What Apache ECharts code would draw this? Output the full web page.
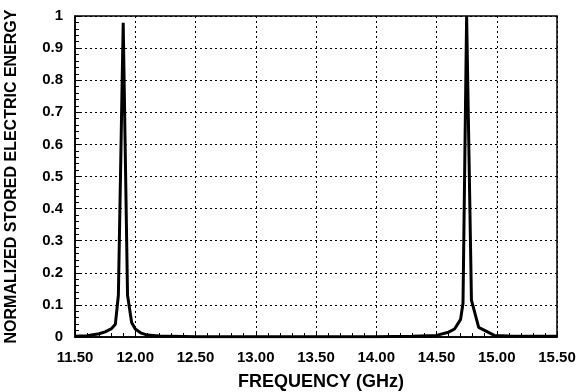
<!DOCTYPE html>
<html><head><meta charset="utf-8">
<script src="https://cdn.jsdelivr.net/npm/echarts@6/dist/echarts.min.js"></script>
<style>html,body{margin:0;padding:0;background:#fff}#c{width:578px;height:392px}</style>
</head><body><div id="c"></div>
<script>
const freq = [11.50, 11.60, 11.70, 11.75, 11.80, 11.835, 11.86, 11.90, 11.936, 11.97, 12.00, 12.05, 12.10, 12.20, 12.50, 13.00, 13.50, 14.00, 14.30, 14.50, 14.60, 14.65, 14.70, 14.72, 14.75, 14.79, 14.85, 14.98, 15.10, 15.50];
const energy = [0.002, 0.004, 0.010, 0.016, 0.025, 0.040, 0.130, 0.979, 0.130, 0.045, 0.025, 0.012, 0.006, 0.003, 0.001, 0.001, 0.001, 0.001, 0.002, 0.005, 0.015, 0.025, 0.055, 0.105, 1.000, 0.115, 0.030, 0.005, 0.003, 0.002];
const xTitle = 'FREQUENCY (GHz)';
const yTitle = 'NORMALIZED STORED ELECTRIC ENERGY';

const chart = echarts.init(document.getElementById('c'), null, {renderer: 'canvas'});
const font = 'Liberation Sans, Arial, sans-serif';
chart.setOption({
  animation: false,
  backgroundColor: '#fff',
  grid: {left: 75, right: 21, top: 16, bottom: 55, outerBoundsMode: 'none', containLabel: false,
    show: true, borderColor: '#000', borderWidth: 1.5, backgroundColor: 'transparent'},
  xAxis: {
    type: 'value', min: 11.5, max: 15.5, interval: 0.5,
    name: xTitle, nameLocation: 'middle', nameGap: 36,
    nameTextStyle: {fontFamily: font, fontWeight: 'bold', fontSize: 18, color: '#000', padding: [0, 0, 0, 10]},
    axisLine: {show: true, lineStyle: {color: '#000', width: 1.5}},
    axisTick: {show: true, inside: true, length: 5, lineStyle: {color: '#000'}},
    minorTick: {show: true, splitNumber: 5, length: 4, lineStyle: {color: '#000'}},
    axisLabel: {fontFamily: font, fontWeight: 'bold', fontSize: 15, color: '#000', margin: 13, formatter: v => v.toFixed(2)},
    splitLine: {show: true, lineStyle: {color: '#000', type: [2, 3], width: 1}}
  },
  yAxis: {
    type: 'value', min: 0, max: 1, interval: 0.1,
    name: yTitle, nameLocation: 'middle', nameGap: 55,
    nameTextStyle: {fontFamily: font, fontWeight: 'bold', fontSize: 16, color: '#000'},
    axisLine: {show: true, lineStyle: {color: '#000', width: 1.5}},
    axisTick: {show: true, inside: true, length: 5, lineStyle: {color: '#000'}},
    minorTick: {show: true, splitNumber: 5, length: 4, lineStyle: {color: '#000'}},
    axisLabel: {fontFamily: font, fontWeight: 'bold', fontSize: 15, color: '#000', margin: 12,
      formatter: v => String(Math.round(v * 10) / 10)},
    splitLine: {show: true, lineStyle: {color: '#000', type: [2, 3], width: 1}}
  },
  series: [{
    type: 'line', data: freq.map((f, i) => [f, energy[i]]),
    showSymbol: false, symbol: 'none',
    lineStyle: {color: '#000', width: 3}, z: 5
  }]
});
</script></body></html>
